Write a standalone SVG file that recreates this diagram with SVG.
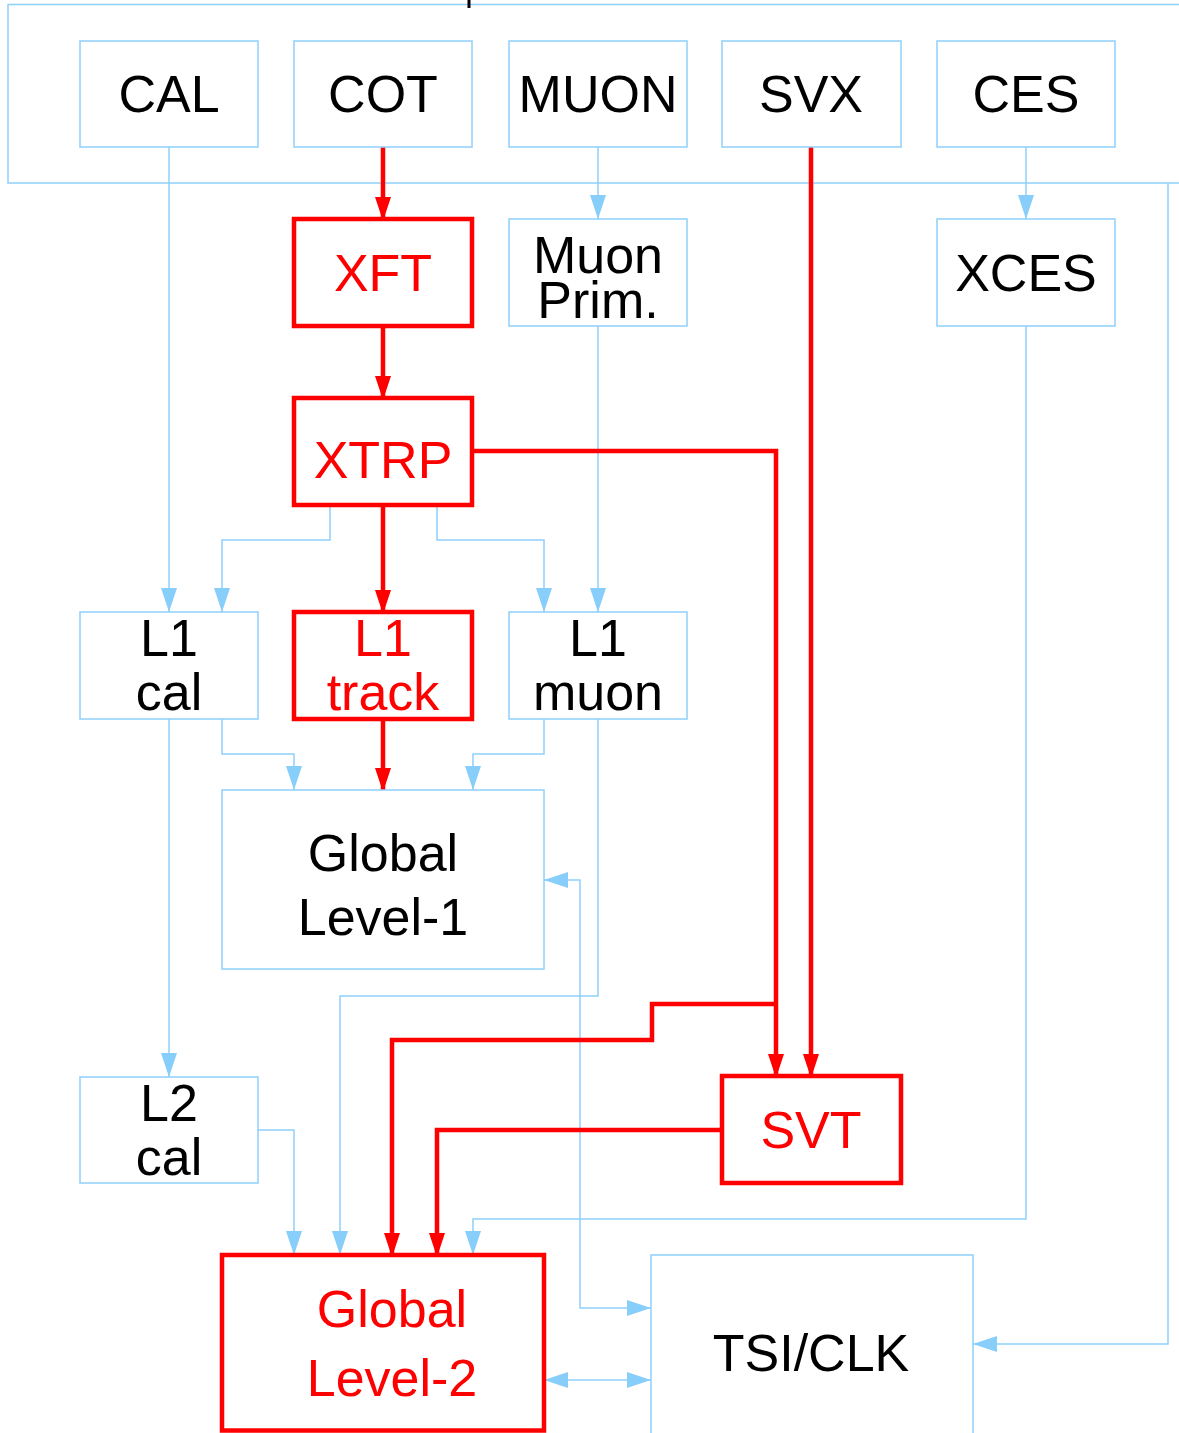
<svg xmlns="http://www.w3.org/2000/svg" width="1179" height="1433" viewBox="0 0 1179 1433">
<style>
.box{fill:#fff;stroke:#8fd0fb;stroke-width:1.5}
.rbox{fill:#fff;stroke:#ff0000;stroke-width:4.5}
.t{font-family:"Liberation Sans",Arial,sans-serif;font-size:52px;text-anchor:middle;fill:#000}
.rt{fill:#ff0000}
.b{fill:none;stroke:#8fd0fb;stroke-width:1.5}
.r{fill:none;stroke:#ff0000;stroke-width:4.5}
</style>
<defs>
<marker id="ab" markerUnits="userSpaceOnUse" markerWidth="24" markerHeight="16" refX="24" refY="8" orient="auto">
<path d="M0,0 L24,8 L0,16 z" fill="#87cefa"/>
</marker>
<marker id="abs" markerUnits="userSpaceOnUse" markerWidth="24" markerHeight="16" refX="0" refY="8" orient="auto">
<path d="M24,0 L0,8 L24,16 z" fill="#87cefa"/>
</marker>
<marker id="ar" markerUnits="userSpaceOnUse" markerWidth="24" markerHeight="16" refX="22" refY="8" orient="auto">
<path d="M0,0 L24,8 L0,16 z" fill="#ff0000"/>
</marker>
</defs>
<rect width="1179" height="1433" fill="#fff"/>
<g id="frame">
<rect x="8" y="4.5" width="1200" height="178.5" fill="none" stroke="#8fd0fb" stroke-width="1.5"/>
<line x1="469" y1="0" x2="469" y2="8" stroke="#000" stroke-width="3"/>
</g>
<g id="connectors">
<path class="b" d="M169,147 V612" marker-end="url(#ab)"/>
<path class="b" d="M598,147 V219" marker-end="url(#ab)"/>
<path class="b" d="M1026,147 V219" marker-end="url(#ab)"/>
<path class="b" d="M598,326 V612" marker-end="url(#ab)"/>
<path class="b" d="M330,505 V540 H222 V612" marker-end="url(#ab)"/>
<path class="b" d="M437,505 V540 H544 V612" marker-end="url(#ab)"/>
<path class="b" d="M222,719 V754 H294 V790" marker-end="url(#ab)"/>
<path class="b" d="M544,719 V754 H473 V790" marker-end="url(#ab)"/>
<path class="b" d="M169,719 V1077" marker-end="url(#ab)"/>
<path class="b" d="M598,719 V996 H340 V1255" marker-end="url(#ab)"/>
<path class="b" d="M544,880 H580 V1308 H651" marker-start="url(#abs)" marker-end="url(#ab)"/>
<path class="b" d="M258,1130 H294 V1255" marker-end="url(#ab)"/>
<path class="b" d="M1026,326 V1219 H473 V1255" marker-end="url(#ab)"/>
<path class="b" d="M544,1380 H651" marker-start="url(#abs)" marker-end="url(#ab)"/>
<path class="b" d="M1168,183 V1344 H973" marker-end="url(#ab)"/>
<path class="r" d="M383,147 V219" marker-end="url(#ar)"/>
<path class="r" d="M383,326 V398" marker-end="url(#ar)"/>
<path class="r" d="M383,505 V612" marker-end="url(#ar)"/>
<path class="r" d="M383,719 V790" marker-end="url(#ar)"/>
<path class="r" d="M472,451 H776 V1076" marker-end="url(#ar)"/>
<path class="r" d="M776,1004 H652 V1040 H392 V1255" marker-end="url(#ar)"/>
<path class="r" d="M811,147 V1076" marker-end="url(#ar)"/>
<path class="r" d="M722,1130 H437 V1255" marker-end="url(#ar)"/>
</g>
<g id="CAL"><rect class="box" x="80" y="41" width="178" height="106"/><text class="t" x="169" y="112">CAL</text></g>
<g id="COT"><rect class="box" x="294" y="41" width="178" height="106"/><text class="t" x="383" y="112">COT</text></g>
<g id="MUON"><rect class="box" x="509" y="41" width="178" height="106"/><text class="t" x="598" y="112">MUON</text></g>
<g id="SVX"><rect class="box" x="722" y="41" width="179" height="106"/><text class="t" x="811" y="112">SVX</text></g>
<g id="CES"><rect class="box" x="937" y="41" width="178" height="106"/><text class="t" x="1026" y="112">CES</text></g>
<g id="XFT"><rect class="rbox" x="294" y="219" width="178" height="107"/><text class="t rt" x="383" y="291">XFT</text></g>
<g id="MuonPrim"><rect class="box" x="509" y="219" width="178" height="107"/><text class="t" x="598" y="273">Muon</text><text class="t" x="598" y="318">Prim.</text></g>
<g id="XCES"><rect class="box" x="937" y="219" width="178" height="107"/><text class="t" x="1026" y="291">XCES</text></g>
<g id="XTRP"><rect class="rbox" x="294" y="398" width="178" height="107"/><text class="t rt" x="383" y="478">XTRP</text></g>
<g id="L1cal"><rect class="box" x="80" y="612" width="178" height="107"/><text class="t" x="169" y="656">L1</text><text class="t" x="169" y="710">cal</text></g>
<g id="L1track"><rect class="rbox" x="294" y="612" width="178" height="107"/><text class="t rt" x="383" y="656">L1</text><text class="t rt" x="383" y="710">track</text></g>
<g id="L1muon"><rect class="box" x="509" y="612" width="178" height="107"/><text class="t" x="598" y="656">L1</text><text class="t" x="598" y="710">muon</text></g>
<g id="GlobalL1"><rect class="box" x="222" y="790" width="322" height="179"/><text class="t" x="383" y="871">Global</text><text class="t" x="383" y="935">Level-1</text></g>
<g id="L2cal"><rect class="box" x="80" y="1077" width="178" height="106"/><text class="t" x="169" y="1121">L2</text><text class="t" x="169" y="1175">cal</text></g>
<g id="SVT"><rect class="rbox" x="722" y="1076" width="179" height="107"/><text class="t rt" x="811" y="1148">SVT</text></g>
<g id="GlobalL2"><rect class="rbox" x="222" y="1255" width="322" height="175.5"/><text class="t rt" x="392" y="1327">Global</text><text class="t rt" x="392" y="1396">Level-2</text></g>
<g id="TSICLK"><rect class="box" x="651" y="1255" width="322" height="200"/><text class="t" x="811" y="1371">TSI/CLK</text></g>
</svg>
